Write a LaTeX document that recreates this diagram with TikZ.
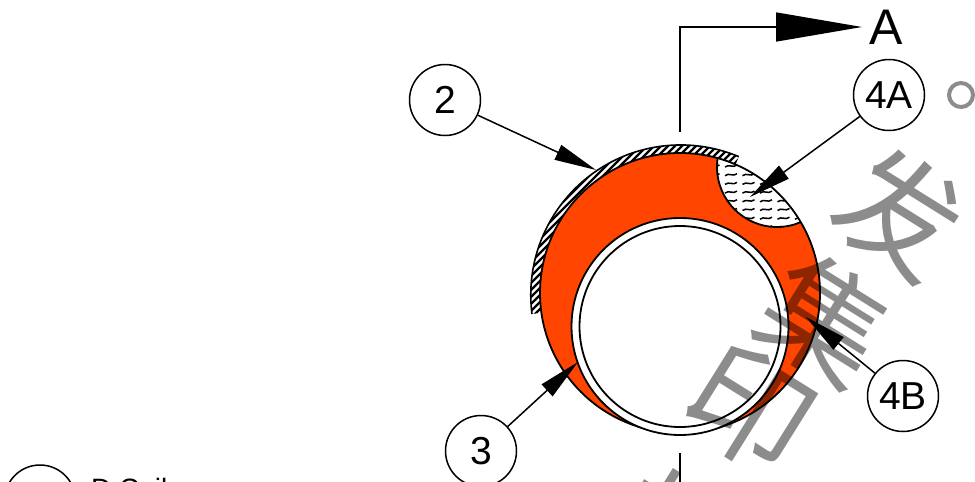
\documentclass[tikz,border=0pt]{standalone}
\usepackage{fontspec}
\setmainfont{Liberation Sans}
\newfontfamily\cjk{Noto Sans CJK SC}
\usetikzlibrary{arrows.meta}
\definecolor{oilorange}{HTML}{FF4500}
\definecolor{markgray}{HTML}{8C8C8C}
\newcommand{\lowered}[1]{\raisebox{-1.5pt}{#1}}
\tikzset{
  x=1pt,y=-1pt,
  callout/.style={circle,draw=black,line width=1.5pt,fill=white,minimum size=71pt,inner sep=0pt,font=\fontsize{39}{42}\selectfont},
  leader/.style={draw=black,line width=1.5pt,-{Triangle[length=42pt,width=16pt]}},
  outline/.style={draw=black,line width=1.8pt},
  stamp/.style={text=markgray,rotate=-32,font=\cjk\fontsize{122}{122}\selectfont,inner sep=0pt},
}
\begin{document}
\begin{tikzpicture}
\useasboundingbox (0,0) rectangle (975,482);
\clip (0,0) rectangle (975,482);
% hatched band
\begin{scope}
  \clip (532,314) arc[start angle=-187.3,end angle=-67.2,radius=150] -- (680,295) -- cycle;
  \foreach \k in {-40,...,40}{
    \draw[line width=2.2pt] ({640+\k*7-200},{230+200}) -- ({640+\k*7+200},{230-200});
  }
\end{scope}
\draw[line width=1.6pt] (532,314) arc[start angle=-187.3,end angle=-67.2,radius=150];
% body
\fill[oilorange] (680,293) circle[radius=140];
\begin{scope}
  \clip (680,293) circle[radius=140];
  \fill[white,draw=black,line width=1.8pt] (777,167) circle[radius=60];
  \clip (777,167) circle[radius=60];
  \foreach \r in {0,...,8}{
    \foreach \c in {0,...,6}{
      \pgfmathsetmacro{\xx}{707.5+\c*17.5}
      \pgfmathsetmacro{\yy}{167+\r*8.7}
      \draw[line width=1.5pt] (\xx,\yy) .. controls (\xx+4,\yy-3.5) and (\xx+8,\yy+1.5) .. (\xx+12,\yy-2);
    }
  }
\end{scope}
\draw[outline] (680,293) circle[radius=140];
\fill[white] (680,326.5) circle[radius=108.5];
\draw[outline] (680,326.5) circle[radius=108.5];
\draw[outline] (680,326.5) circle[radius=100.5];
% section line
\coordinate (cutTop) at (680,132);
\coordinate (cutCorner) at (680,27);
\coordinate (cutTip) at (862,27);
\coordinate (cutLowA) at (680,453);
\coordinate (cutLowB) at (680,482);
\draw[line width=1.5pt,-{Triangle[length=86pt,width=29pt]}] (cutTop) -- (cutCorner) -- (cutTip);
\draw[line width=1.5pt] (cutLowA) -- (cutLowB);
\node[inner sep=0pt,font=\fontsize{50}{52}\selectfont] (secA) at (886,27) {A};
% callouts
\node[callout] (c2) at (445,100) {\lowered{2}};
\node[callout] (c4a) at (889,95) {\lowered{4A}};
\node[callout] (c3) at (481,451) {\lowered{3}};
\node[callout] (c4b) at (903,396) {\lowered{4B}};
\node[callout] (cOil) at (40,500.5) {};
\node[anchor=base west,inner sep=0pt,font=\fontsize{28}{30}\selectfont] (tOil) at (91,498) {D Coil};
\coordinate (t2) at (596,170);
\coordinate (t4a) at (750,197);
\coordinate (t3) at (578,362);
\coordinate (t4b) at (806,317);
\draw[leader] (c2) -- (t2);
\draw[leader] (c4a) -- (t4a);
\draw[leader] (c3) -- (t3);
\draw[leader] (c4b) -- (t4b);
\node[circle,draw=markgray,line width=4pt,minimum size=24pt,inner sep=0pt] (ring) at (961,95) {};
% watermark
\begin{scope}[blend mode=multiply]
  \node[stamp] (w1) at (900,212) {发};
  \node[stamp] (w2) at (825,320) {集};
  \node[stamp] (w3) at (750,408) {印};
  \node[stamp] (w4) at (675,535) {打};
\end{scope}
\end{tikzpicture}
\end{document}
